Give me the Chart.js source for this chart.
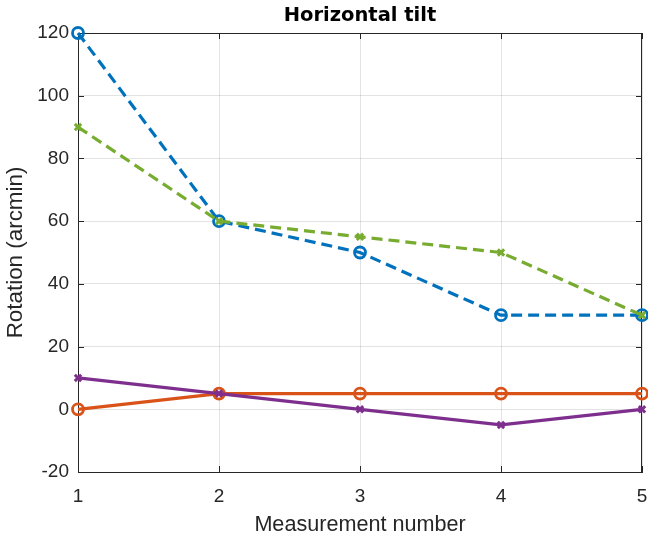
<!DOCTYPE html>
<html><head><meta charset="utf-8">
<script src="https://cdn.jsdelivr.net/npm/chart.js@4/dist/chart.umd.min.js"></script>
<style>html,body{margin:0;padding:0;background:#fff;overflow:hidden}</style>
</head><body>
<canvas id="c" width="648" height="538"></canvas>
<script>
const measurements = [1, 2, 3, 4, 5];
const seriesBlue = [120, 60, 50, 30, 30];
const seriesGreen = [90, 60, 55, 50, 30];
const seriesOrange = [0, 5, 5, 5, 5];
const seriesPurple = [10, 5, 0, -5, 0];
const xTicks = [1, 2, 3, 4, 5];
const yTicks = [-20, 0, 20, 40, 60, 80, 100, 120];
const chartTitle = 'Horizontal tilt';
const xTitle = 'Measurement number';
const yTitle = 'Rotation (arcmin)';

const AX = '#262626';
const FONT = "'Liberation Sans', Arial, Helvetica, sans-serif";
const TFONT = "'DejaVu Sans', 'Liberation Sans', sans-serif";

function pts(vals) { return measurements.map((m, i) => ({x: m, y: vals[i]})); }

const boxPlugin = {
  id: 'box',
  beforeDatasetsDraw(chart) {
    const {ctx, chartArea: a, scales} = chart;
    ctx.save();
    ctx.strokeStyle = AX;
    ctx.lineWidth = 1;
    ctx.beginPath();
    ctx.moveTo(a.left, a.top + 0.5); ctx.lineTo(a.right, a.top + 0.5);
    ctx.moveTo(a.right - 0.5, a.top); ctx.lineTo(a.right - 0.5, a.bottom);
    const L = 6;
    xTicks.forEach(v => {
      const px = Math.round(scales.x.getPixelForValue(v)) + 0.5;
      ctx.moveTo(px, a.bottom); ctx.lineTo(px, a.bottom - L);
      ctx.moveTo(px, a.top); ctx.lineTo(px, a.top + L);
    });
    yTicks.forEach(v => {
      const py = Math.round(scales.y.getPixelForValue(v)) + 0.5;
      ctx.moveTo(a.left, py); ctx.lineTo(a.left + L, py);
      ctx.moveTo(a.right, py); ctx.lineTo(a.right - L, py);
    });
    ctx.stroke();
    ctx.restore();
  }
};

const common = {clip: false, pointBackgroundColor: 'rgba(0,0,0,0)', borderWidth: 3.2};

new Chart(document.getElementById('c'), {
  type: 'line',
  data: {
    datasets: [
      Object.assign({}, common, {label: 'P', data: pts(seriesPurple), borderColor: '#7E2F8E', pointBorderColor: '#7E2F8E', pointStyle: 'crossRot', pointRadius: 4.5, pointBorderWidth: 3}),
      Object.assign({}, common, {label: 'G', data: pts(seriesGreen), borderColor: '#77AC30', pointBorderColor: '#77AC30', borderDash: [11, 6], pointStyle: 'crossRot', pointRadius: 4.5, pointBorderWidth: 3}),
      Object.assign({}, common, {label: 'O', data: pts(seriesOrange), borderColor: '#D95319', pointBorderColor: '#D95319', pointStyle: 'circle', pointRadius: 5.5, pointBorderWidth: 2.8}),
      Object.assign({}, common, {label: 'B', data: pts(seriesBlue), borderColor: '#0072BD', pointBorderColor: '#0072BD', borderDash: [11, 6], pointStyle: 'circle', pointRadius: 5.5, pointBorderWidth: 2.8})
    ]
  },
  options: {
    responsive: false,
    animation: false,
    devicePixelRatio: 1,
    layout: {autoPadding: false, padding: {left: 0, right: 6, top: 0, bottom: 0}},
    plugins: {
      legend: {display: false},
      tooltip: {enabled: false},
      title: {display: true, fullSize: false, text: chartTitle, color: '#000', font: {family: TFONT, size: 19.5, weight: 'bold', lineHeight: 1.2}, padding: {top: 4, bottom: 5.6}}
    },
    scales: {
      x: {
        type: 'linear', min: 1, max: 5,
        afterBuildTicks(s) { s.ticks = xTicks.map(v => ({value: v})); },
        afterFit(s) { s.height = 66; s.paddingLeft = 0; s.paddingRight = 0; },
        ticks: {color: AX, font: {family: FONT, size: 19}, padding: 13, maxRotation: 0, autoSkip: false},
        grid: {color: 'rgba(38,38,38,0.13)', drawTicks: false, lineWidth: 1},
        border: {color: AX, width: 1},
        title: {display: true, text: xTitle, color: AX, font: {family: FONT, size: 21.6}, padding: {top: 0, bottom: 0}}
      },
      y: {
        type: 'linear', min: -20, max: 120,
        afterBuildTicks(s) { s.ticks = yTicks.map(v => ({value: v})); },
        afterFit(s) { s.width = 78; s.paddingTop = 0; s.paddingBottom = 0; },
        ticks: {color: AX, font: {family: FONT, size: 19}, padding: 9, autoSkip: false},
        grid: {color: 'rgba(38,38,38,0.13)', drawTicks: false, lineWidth: 1},
        border: {color: AX, width: 1},
        title: {display: true, text: yTitle, color: AX, font: {family: FONT, size: 22.4}, padding: {top: 2, bottom: 0}}
      }
    }
  },
  plugins: [boxPlugin]
});
</script>
</body></html>
